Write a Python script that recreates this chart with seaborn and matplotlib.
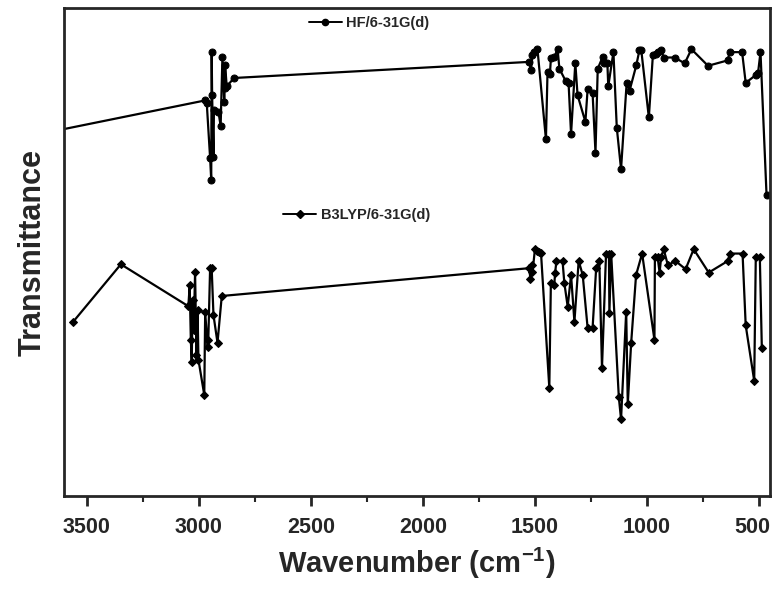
import matplotlib
matplotlib.use('Agg')
import matplotlib.pyplot as plt
import matplotlib.transforms as mtransforms
import seaborn as sns
import pandas as pd
from matplotlib.ticker import FixedLocator, MultipleLocator
from matplotlib.lines import Line2D

# HF/6-31G(d) calculated spectrum (wavenumber, transmittance in arbitrary units)
hf_wavenumber = [3700, 2971, 2964, 2949, 2944, 2942, 2940, 2934, 2932, 2912, 2902,
                 2894, 2886, 2884, 2882, 2875, 2842,
                 1526, 1518, 1511, 1503, 1489, 1451, 1444, 1433, 1429, 1414, 1399,
                 1391, 1362, 1350, 1339, 1320, 1310, 1275, 1265, 1243, 1230, 1220,
                 1198, 1190, 1177, 1173, 1150, 1135, 1116, 1091, 1078, 1048, 1034,
                 1026, 992, 974, 959, 952, 937, 926, 877, 832, 802, 728, 641, 631,
                 576, 560, 515, 505, 494, 467]
hf_transmittance = [74.3, 81.1, 80.6, 69.3, 64.8, 91.0, 82.2, 69.5, 79.1, 78.8, 75.9,
                    90.0, 80.7, 83.6, 88.3, 84.0, 85.7,
                    89.0, 87.3, 90.4, 91.0, 91.7, 73.1, 86.9, 86.6, 89.7, 90.0, 91.6,
                    87.6, 85.0, 84.6, 74.2, 88.8, 82.2, 76.7, 83.5, 82.6, 70.4, 87.6,
                    90.0, 88.8, 88.7, 84.0, 91.0, 75.5, 67.0, 84.7, 83.1, 88.3, 91.4,
                    91.5, 77.6, 90.4, 90.7, 91.0, 91.5, 89.9, 89.9, 88.7, 91.6, 88.2,
                    89.3, 91.0, 91.0, 84.7, 86.3, 86.7, 91.0, 61.7]

# B3LYP/6-31G(d) calculated spectrum
b3_wavenumber = [3560, 3347, 3046, 3040, 3035, 3031, 3027, 3022, 3016, 3010, 3005,
                 3001, 2975, 2971, 2960, 2957, 2949, 2942, 2934, 2916, 2897,
                 1526, 1520, 1515, 1511, 1500, 1490, 1481, 1473, 1436, 1429, 1414,
                 1410, 1404, 1377, 1369, 1354, 1339, 1324, 1305, 1287, 1265, 1243,
                 1227, 1213, 1201, 1183, 1170, 1168, 1160, 1126, 1116, 1093, 1086,
                 1071, 1049, 1022, 967, 965, 953, 944, 937, 926, 907, 874, 828, 792,
                 725, 639, 631, 574, 560, 522, 515, 497, 488]
b3_transmittance = [35.7, 47.5, 38.9, 43.2, 32.0, 27.5, 40.2, 34.0, 45.9, 28.9, 38.1,
                    27.9, 20.7, 37.7, 30.5, 32.0, 46.7, 46.7, 37.1, 31.4, 41.0,
                    46.7, 44.5, 47.3, 45.9, 50.6, 50.2, 50.0, 49.8, 22.2, 43.7, 43.2,
                    45.8, 48.2, 48.2, 43.7, 38.8, 45.3, 35.7, 48.2, 45.3, 34.4, 34.4,
                    46.7, 48.2, 26.3, 49.6, 49.6, 37.6, 49.6, 20.3, 15.7, 37.8, 18.8,
                    31.3, 45.3, 49.7, 32.0, 49.0, 49.0, 45.8, 49.0, 50.6, 47.3, 48.2,
                    46.5, 50.6, 45.8, 48.2, 49.7, 49.7, 35.0, 23.6, 49.0, 49.0, 30.3]

x_ticks = [3500, 3000, 2500, 2000, 1500, 1000, 500]

hf_df = pd.DataFrame({'wavenumber': hf_wavenumber, 'T': hf_transmittance})
b3_df = pd.DataFrame({'wavenumber': b3_wavenumber, 'T': b3_transmittance})

sns.set_style('ticks')
plt.rcParams['font.family'] = ['Liberation Sans', 'DejaVu Sans']
plt.rcParams['font.weight'] = 'bold'
plt.rcParams['mathtext.fontset'] = 'custom'
plt.rcParams['mathtext.rm'] = 'Liberation Sans:bold'
plt.rcParams['mathtext.default'] = 'rm'

fig = plt.figure(figsize=(7.73, 5.89), dpi=100)
ax = fig.add_axes([0.083, 0.158, 0.913, 0.828])

sns.lineplot(data=hf_df, x='wavenumber', y='T', sort=False, estimator=None,
             color='black', linewidth=1.6, marker='o', markersize=5,
             markeredgecolor='black', ax=ax)
sns.lineplot(data=b3_df, x='wavenumber', y='T', sort=False, estimator=None,
             color='black', linewidth=1.6, marker='D', markersize=4.5,
             markeredgecolor='black', ax=ax)

ax.set_xlim(3600, 452)
ax.set_ylim(0, 100)
ax.xaxis.set_major_locator(FixedLocator(x_ticks))
ax.xaxis.set_minor_locator(MultipleLocator(250))
ax.tick_params(axis='x', which='major', direction='out', length=7, width=2,
               labelsize=15.5, pad=8)
ax.tick_params(axis='x', which='minor', direction='out', length=4, width=1.5)
ax.set_yticks([])
for sp in ax.spines.values():
    sp.set_linewidth(2)
    sp.set_visible(True)

ax.set_xlabel(r'Wavenumber (cm$^{-1}$)', fontsize=21, fontweight='bold', labelpad=6)
ax.set_ylabel('Transmittance', fontsize=22, fontweight='bold', labelpad=12)

hf_handle = Line2D([], [], color='black', linewidth=1.4, marker='o', markersize=4.5)
b3_handle = Line2D([], [], color='black', linewidth=1.4, marker='D', markersize=4)
leg1 = ax.legend([hf_handle], ['HF/6-31G(d)'], loc='center', bbox_to_anchor=(0.432, 0.97),
                 frameon=False, prop={'weight': 'bold', 'size': 10.5}, handlelength=2.3,
                 handletextpad=0.3)
ax.add_artist(leg1)
ax.legend([b3_handle], ['B3LYP/6-31G(d)'], loc='center', bbox_to_anchor=(0.414, 0.576),
          frameon=False, prop={'weight': 'bold', 'size': 10.5}, handlelength=2.3,
          handletextpad=0.3)

# nudge the last tick label so it stays inside the canvas
fig.canvas.draw()
for lbl in ax.get_xticklabels():
    lbl.set_fontweight('bold')
    if lbl.get_text() == '500':
        lbl.set_transform(lbl.get_transform() +
                          mtransforms.ScaledTranslation(-5 / 72, 0, fig.dpi_scale_trans))

fig.savefig('out.png', dpi=100)
plt.close(fig)
